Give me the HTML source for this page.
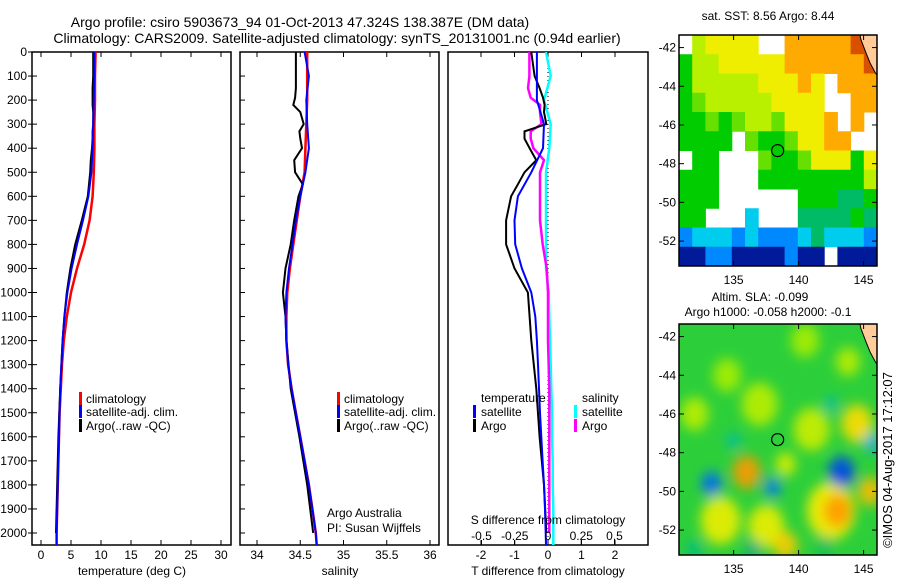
<!DOCTYPE html>
<html><head><meta charset="utf-8"><style>
html,body{margin:0;padding:0;background:#fff}
svg{display:block;font-family:"Liberation Sans",Arial,sans-serif}
text{fill:#000}
</style></head><body>
<svg id="fig" width="900" height="580" viewBox="0 0 900 580" xmlns="http://www.w3.org/2000/svg">
<defs>
<clipPath id="cp1"><rect x="32" y="52" width="199" height="493"/></clipPath>
<clipPath id="cp2"><rect x="240" y="52" width="199" height="493"/></clipPath>
<clipPath id="cp3"><rect x="448" y="52" width="200" height="493"/></clipPath>
<clipPath id="cpm1"><rect x="679" y="35" width="198" height="231"/></clipPath>
<clipPath id="cpm2"><rect x="679" y="324" width="198" height="231"/></clipPath>
<filter id="blur" x="-20%" y="-20%" width="140%" height="140%"><feGaussianBlur stdDeviation="6"/></filter>
</defs>
<text x="300" y="27" font-size="14" text-anchor="middle">Argo profile: csiro 5903673_94 01-Oct-2013 47.324S 138.387E (DM data)</text>
<text x="337" y="43" font-size="14" text-anchor="middle">Climatology: CARS2009. Satellite-adjusted climatology: synTS_20131001.nc (0.94d earlier)</text>
<g id="g1"></g>
<g id="g2"></g>
<g id="g3"></g>
<g id="gm1"></g>
<g id="gm2"></g>
<text transform="translate(892,460) rotate(-90)" font-size="13" text-anchor="middle">©IMOS 04-Aug-2017 17:12:07</text>
</svg>
<script>
// ---- data ----
const depth = [0,100,200,300,400,500,600,700,800,900,1000,1100,1200,1300,1400,1500,1600,1700,1800,1900,2000,2050];
const tClim = [9.1,9.0,9.0,8.9,8.9,8.8,8.6,8.1,7.2,6.0,5.0,4.3,3.8,3.5,3.3,3.1,3.0,2.9,2.8,2.7,2.6,2.6];
const tSat = [8.9,8.9,8.8,8.7,8.6,8.4,7.9,7.0,6.0,5.1,4.4,3.9,3.6,3.4,3.2,3.1,3.0,2.9,2.8,2.7,2.6,2.6];
const sClim = [34.58,34.58,34.58,34.57,34.56,34.55,34.50,34.46,34.42,34.38,34.35,34.34,34.34,34.36,34.40,34.45,34.50,34.55,34.60,34.64,34.68,34.69];
const sSat = [34.55,34.60,34.57,34.58,34.60,34.56,34.50,34.45,34.41,34.37,34.34,34.33,34.34,34.36,34.40,34.45,34.50,34.55,34.60,34.64,34.68,34.69];
const argoDepth = [0,50,100,150,190,220,250,300,330,360,400,450,500,550,600,700,800,900,1000,1100,1200,1400,1600,1800,2000];
const tArgo = [8.7,8.7,8.7,8.6,8.6,8.6,8.7,8.7,8.6,8.6,8.5,8.3,8.2,8.0,7.8,6.8,5.7,4.9,4.3,3.9,3.6,3.2,2.9,2.7,2.5];
const sArgo = [34.45,34.45,34.45,34.45,34.44,34.42,34.50,34.54,34.49,34.50,34.52,34.43,34.44,34.53,34.48,34.43,34.39,34.33,34.30,34.33,34.34,34.39,34.49,34.58,34.65];
const dtSat = [-0.33,-0.33,-0.33,-0.12,-0.15,-0.5,-0.9,-1.0,-0.98,-0.78,-0.5,-0.38,-0.33,-0.3,-0.27,-0.24,-0.2,-0.16,-0.12,-0.09,-0.07,-0.06];
const dtArgo = [-0.5,-0.45,-0.4,-0.25,-0.15,-0.1,-0.12,-0.05,-0.7,-0.7,-0.55,-0.35,-0.7,-0.9,-1.1,-1.25,-1.25,-1.0,-0.6,-0.55,-0.5,-0.35,-0.25,-0.12,-0.05];
const dsSat = [-0.015,0.02,-0.03,0.02,0.01,-0.015,-0.015,-0.015,-0.015,-0.015,0.005,0.01,0.015,0.02,0.025,0.03,0.03,0.035,0.035,0.04,0.04,0.04];
const dsArgo = [-0.14,-0.14,-0.14,-0.15,-0.13,-0.06,-0.06,-0.05,-0.13,-0.13,-0.11,-0.03,-0.06,-0.06,-0.06,-0.06,-0.04,-0.01,0.0,0.0,0.0,0.01,0.01,0.01,0.01];
const depthTicks = [0,100,200,300,400,500,600,700,800,900,1000,1100,1200,1300,1400,1500,1600,1700,1800,1900,2000];
const tTicks = [0,5,10,15,20,25,30];
const sTicks = [34,34.5,35,35.5,36];
const sTickLabels = ["34","34.5","35","35.5","36"];
const dtTicks = [-2,-1,0,1,2];
const dsTicks = [-0.5,-0.25,0,0.25,0.5];
const dsTickLabels = ["-0.5","-0.25","0","0.25","0.5"];
const latTicks = [-42,-44,-46,-48,-50,-52];
const lonTicks = [135,140,145];
const argoLon = 138.387, argoLat = -47.324;
const sstGrid = [
"WYyyyyWWooooorr",
"GYYyyyyyoooooor",
"GYYYYYyyyoyWooo",
"GgYYYYYyyyyWWoo",
"GGgGgYYgyyyoWoW",
"GGGGWgGGgyyooWW",
"WGGWWWgGGgyyyGy",
"GGGWWWGGGGGGGGY",
"GGGWWWWWWGGGttG",
"GGWWWcWWWttttGt",
"bcccbcbbbctcccb",
"nnbbnnnnbnnWnnn"];
const slaBlobs = [[134,-51.5,"#eeee00",20],[137.5,-51.8,"#eeee00",18],[139,-52.8,"#ffcc00",12],[141,-46.8,"#ccee00",18],[144.5,-46.5,"#ffdd00",16],[145.5,-50,"#ffbb00",12],[132,-46,"#bbee00",14],[139,-48.6,"#ddee00",10],[137,-45.5,"#bbee00",18],[134.5,-44,"#aaee00",14],[140.5,-42.2,"#aaee00",14],[143.8,-43.3,"#bbee00",12],[142.5,-51,"#ffee00",24],
[136,-49,"#ff9900",14],[143,-51,"#ff9900",14],[133.3,-49.6,"#0066ff",10],[138,-49.8,"#0077ff",8],[143.3,-49,"#0044ee",13],[145.7,-47.5,"#00aaee",8],[135,-47.4,"#00bbaa",7],[142.5,-45.5,"#00bbaa",7],
[132,-53,"#00bb88",8],[136.5,-53,"#00aa88",8],[142,-52.8,"#00bb66",8]];

// ---- scales ----
const yD = d => 52 + d*0.2405;
const xT = t => 41 + t*6;
const xS = s => 257 + (s-34)*86.5;
const xTd = v => 548 + v*33.5;
const xSd = v => 548 + v*133;
const lonX = l => 679 + (l-130.8)*13;
const latY = (lat, top) => top + (-41.35-lat)*19.35;
const NS = "http://www.w3.org/2000/svg";
function mk(tag, attrs, parent){const e=document.createElementNS(NS,tag);for(const k in attrs)e.setAttribute(k,attrs[k]);parent.appendChild(e);return e;}
function txt(parent,x,y,s,size,anchor){const e=mk("text",{x:x,y:y,"font-size":size,"text-anchor":anchor||"middle"},parent);e.textContent=s;return e;}
function line(parent,xs,ys,color,w,clip,name){
  const pts=xs.map((x,i)=>x.toFixed(1)+","+ys[i].toFixed(1)).join(" ");
  const p=mk("polyline",{points:pts,fill:"none",stroke:color,"stroke-width":w,"clip-path":clip},parent);
  
  
  return p;
}
function frame(g,x0,x1){const r=mk("rect",{x:x0,y:52,width:x1-x0,height:493,fill:"none",stroke:"#000","stroke-width":1.5},g);
  
  }
function legendBar(g,x,y,c){const r=mk("rect",{x:x,y:y-11,width:3,height:13,fill:c},g);
  
  }

// ---- panel 1 ----
const g1=document.getElementById("g1");
frame(g1,32,231);
depthTicks.forEach(d=>{mk("line",{x1:28,x2:37,y1:yD(d),y2:yD(d),stroke:"#000"},g1);
  const t=txt(g1,27,yD(d)+4,String(d),12,"end");
  
  });
tTicks.forEach(v=>{mk("line",{x1:xT(v),x2:xT(v),y1:52,y2:57,stroke:"#000"},g1);mk("line",{x1:xT(v),x2:xT(v),y1:540,y2:545,stroke:"#000"},g1);
  const t=txt(g1,xT(v),559,String(v),12);
  
  });
line(g1,tClim.map(xT),depth.map(yD),"#ff0000",2.5,"url(#cp1)","temperature-climatology-line");
line(g1,tArgo.map(xT),argoDepth.map(yD),"#000",2,"url(#cp1)","temperature-argo-line");
line(g1,tSat.map(xT),depth.map(yD),"#0000ff",2,"url(#cp1)","temperature-satellite-line");
let t1=txt(g1,132,575,"temperature (deg C)",12);  
[["climatology","#f00",403],["satellite-adj. clim.","#00f",416],["Argo(..raw -QC)","#000",430]].forEach(([s,c,y])=>{legendBar(g1,79,y,c);const t=txt(g1,86,y,s,12,"start");});

// ---- panel 2 ----
const g2=document.getElementById("g2");
frame(g2,240,439);
depthTicks.forEach(d=>{mk("line",{x1:240,x2:245,y1:yD(d),y2:yD(d),stroke:"#000"},g2);});
sTicks.forEach((v,i)=>{mk("line",{x1:xS(v),x2:xS(v),y1:52,y2:57,stroke:"#000"},g2);mk("line",{x1:xS(v),x2:xS(v),y1:540,y2:545,stroke:"#000"},g2);
  const t=txt(g2,xS(v),559,sTickLabels[i],12);
  
  });
line(g2,sClim.map(xS),depth.map(yD),"#ff0000",2.5,"url(#cp2)","salinity-climatology-line");
line(g2,sArgo.map(xS),argoDepth.map(yD),"#000",2,"url(#cp2)","salinity-argo-line");
line(g2,sSat.map(xS),depth.map(yD),"#0000ff",2,"url(#cp2)","salinity-satellite-line");
let t2=txt(g2,340,575,"salinity",12);  
[["climatology","#f00",403],["satellite-adj. clim.","#00f",416],["Argo(..raw -QC)","#000",430]].forEach(([s,c,y])=>{legendBar(g2,337,y,c);const t=txt(g2,344,y,s,12,"start");});
let pa=txt(g2,327,517,"Argo Australia",12,"start");  
let pb=txt(g2,327,532,"PI: Susan Wijffels",12,"start");  

// ---- panel 3 ----
const g3=document.getElementById("g3");
frame(g3,448,648);
dtTicks.forEach(v=>{mk("line",{x1:xTd(v),x2:xTd(v),y1:52,y2:57,stroke:"#000"},g3);mk("line",{x1:xTd(v),x2:xTd(v),y1:540,y2:545,stroke:"#000"},g3);
  const t=txt(g3,xTd(v),559,String(v),12);
  
  });
mk("line",{x1:548,x2:548,y1:52,y2:545,stroke:"#000","stroke-dasharray":"1,3"},g3);
line(g3,dsSat.map(xSd),depth.map(yD),"#00ffff",2.5,"url(#cp3)","sdiff-satellite-line");
line(g3,dsArgo.map(xSd),argoDepth.map(yD),"#ff00ff",2.5,"url(#cp3)","sdiff-argo-line");
line(g3,dtArgo.map(xTd),argoDepth.map(yD),"#000",2,"url(#cp3)","tdiff-argo-line");
line(g3,dtSat.map(xTd),depth.map(yD),"#0000ff",2,"url(#cp3)","tdiff-satellite-line");
dsTicks.forEach((v,i)=>{mk("line",{x1:xSd(v),x2:xSd(v),y1:540,y2:545,stroke:"#000"},g3);
  const t=txt(g3,xSd(v),540,dsTickLabels[i],12);
  
  });
let t3=txt(g3,548,524,"S difference from climatology",12);  
let t4=txt(g3,548,575,"T difference from climatology",12);  
let lt=txt(g3,481,402,"temperature",12,"start");  
let ls=txt(g3,582,402,"salinity",12,"start");  
[["satellite","#00f",416,473],["Argo","#000",430,473],["satellite","#0ff",416,574],["Argo","#f0f",430,574]].forEach(([s,c,y,x])=>{legendBar(g3,x,y,c);const t=txt(g3,x+8,y,s,12,"start");});

// ---- maps ----
const colMap={W:"#fff",Y:"#b8f000",y:"#f0ee00",o:"#ffaa00",r:"#d85000",g:"#66e000",G:"#00cc00",t:"#00bb66",c:"#00ccee",b:"#0088ff",n:"#001a99"};
function mapAxes(g,top){
  const r=mk("rect",{x:679,y:top,width:198,height:231,fill:"none",stroke:"#000","stroke-width":1.5},g);
   
  latTicks.forEach(l=>{const y=latY(l,top);mk("line",{x1:679,x2:684,y1:y,y2:y,stroke:"#000"},g);mk("line",{x1:872,x2:877,y1:y,y2:y,stroke:"#000"},g);
    const t=txt(g,676,y+4,String(l),12,"end");});
  lonTicks.forEach(l=>{const x=lonX(l);mk("line",{x1:x,x2:x,y1:top,y2:top+5,stroke:"#000"},g);mk("line",{x1:x,x2:x,y1:top+226,y2:top+231,stroke:"#000"},g);
    const t=txt(g,x,top+249,String(l),12);});
  const c=mk("circle",{cx:lonX(argoLon),cy:latY(argoLat,top),r:6,fill:"none",stroke:"#000","stroke-width":1.2},g);
   
}
function land(g,top,clip){
  const pts=[[145,-41.3],[146.1,-41.3],[146.1,-43.5],[145.9,-43.3],[145.5,-42.8],[145.2,-42.3],[144.8,-41.6],[144.7,-41.3]];
  const p=mk("polygon",{points:pts.map(q=>lonX(q[0])+","+latY(q[1],top)).join(" "),fill:"#ffcc99",stroke:"#000","stroke-width":1,"clip-path":clip},g);
   
}
const gm1=document.getElementById("gm1");
const cw=198/15, ch=231/12;
sstGrid.forEach((row,i)=>{for(let j=0;j<15;j++){const ch1=row[j];if(ch1==="W")continue;
  mk("rect",{x:679+j*cw,y:35+i*ch,width:cw+0.5,height:ch+0.5,fill:colMap[ch1]},gm1);}});
land(gm1,35,"url(#cpm1)");
mapAxes(gm1,35);
let mt=txt(gm1,768,20,"sat. SST: 8.56 Argo: 8.44",12);  

const gm2=document.getElementById("gm2");
mk("rect",{x:679,y:324,width:198,height:231,fill:"#2ccf3a"},gm2);
const bl=mk("g",{"clip-path":"url(#cpm2)"},gm2);
const bi=mk("g",{filter:"url(#blur)"},bl);
slaBlobs.forEach(b=>{const e=mk("ellipse",{cx:lonX(b[0]),cy:latY(b[1],324),rx:b[3],ry:b[3]*1.2,fill:b[2],opacity:0.9},bi);
   });
land(gm2,324,"url(#cpm2)");
mapAxes(gm2,324);
let m2a=txt(gm2,760,301,"Altim. SLA: -0.099",12);  
let m2b=txt(gm2,768,316,"Argo h1000: -0.058 h2000: -0.1",12);  
</script>
</body></html>
